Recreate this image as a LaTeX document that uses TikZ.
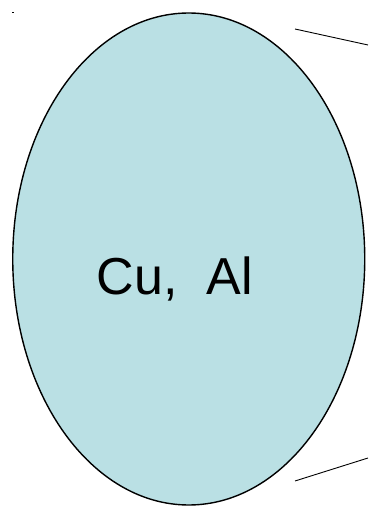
\documentclass[tikz,border=0pt]{standalone}
\usepackage{fontspec}
\setmainfont{Liberation Sans}
\usetikzlibrary{shapes.geometric}
\definecolor{cellblue}{HTML}{BAE0E4}
\tikzset{
  cell/.style={ellipse, draw=black, line width=1.4pt, fill=cellblue, minimum width=352pt, minimum height=492pt, inner sep=0pt},
  thinline/.style={draw=black, line width=0.9pt},
  celltext/.style={font=\fontsize{52}{56}\selectfont, inner sep=0pt, anchor=base}
}
\begin{document}
\begin{tikzpicture}[x=1pt,y=1pt]
\useasboundingbox (0,0) rectangle (368,507);
\node[cell] (cell) at (188.75,248) {};
\node[celltext] (label) at (175,212) {Cu,\ \ Al};
\fill[black] (12,494) rectangle (14,495);
\coordinate (t1) at (295,478);
\coordinate (t2) at (368,462);
\coordinate (b1) at (295,26);
\coordinate (b2) at (368,49);
\draw[thinline] (t1) -- (t2);
\draw[thinline] (b1) -- (b2);
\end{tikzpicture}
\end{document}
